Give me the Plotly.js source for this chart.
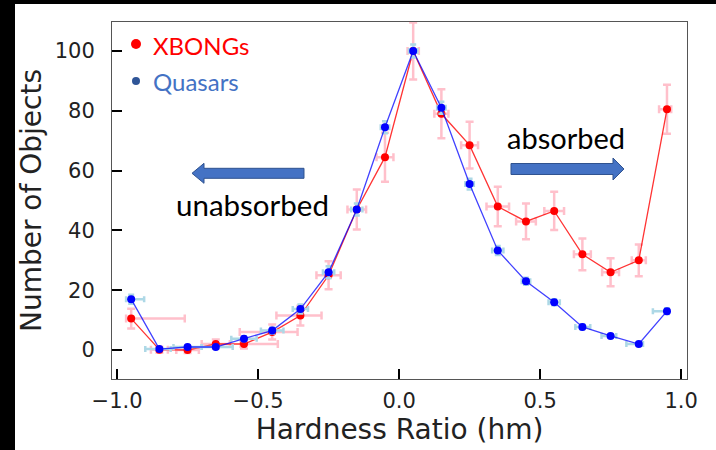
<!DOCTYPE html>
<html>
<head>
<meta charset="utf-8">
<script src="https://cdn.plot.ly/plotly-3.0.1.min.js"></script>
<style>
  html, body { margin: 0; padding: 0; background: #000; width: 716px; height: 450px; overflow: hidden; }
  #chart { position: absolute; left: 15px; top: 4px; width: 701px; height: 446px; background: #fff; }
</style>
</head>
<body>
<div id="chart"></div>
<script>
// ---- data ----
const hardnessRatio = [-0.95, -0.85, -0.75, -0.65, -0.55, -0.45, -0.35, -0.25, -0.15, -0.05,
                        0.05, 0.15, 0.25, 0.35, 0.45, 0.55, 0.65, 0.75, 0.85, 0.95];
const xbongCounts   = [10.5, 0.1, 0, 2, 2, 6, 11.5, 25, 47, 64.5,
                       100, 79, 68.5, 48, 43, 46.5, 32, 26, 30, 80.5];
const xbongErrY     = [3.3, 1, 1, 1.5, 1.5, 2.5, 3.3, 4.7, 6.7, 8.2,
                       9.5, 8.2, 7.8, 6.6, 6, 6.4, 5.3, 4.7, 5.3, 8.2];
const xbongErrXPlus = [0.19, 0.03, 0.04, 0.05, 0.12, 0.09, 0.075, 0.043, 0.033, 0.03,
                       0.02, 0.025, 0.03, 0.04, 0.035, 0.035, 0.03, 0.03, 0.025, 0.015];
const xbongErrXMinus= [0.018, 0.03, 0.04, 0.05, 0.012, 0.115, 0.085, 0.043, 0.033, 0.03,
                       0.02, 0.025, 0.03, 0.04, 0.035, 0.035, 0.03, 0.03, 0.025, 0.028];
const quasarCounts  = [17, 0.3, 1, 1, 3.8, 6.5, 13.7, 26, 47, 74.5,
                       100, 81, 55.5, 33.3, 23, 16, 7.7, 4.7, 2, 13];
const quasarErrY    = [1.5, 0.3, 0.5, 0.5, 0.8, 1, 1.5, 2, 2, 2,
                       2.2, 2, 1.8, 1.5, 1.2, 1, 0.8, 0.6, 0.4, 1];
const quasarErrXPlus= [0.046, 0.04, 0.05, 0.06, 0.045, 0.04, 0.027, 0.02, 0.02, 0.015,
                       0.015, 0.015, 0.015, 0.02, 0.015, 0.02, 0.028, 0.02, 0.015, 0.004];
const quasarErrXMinus=[0.018, 0.05, 0.05, 0.05, 0.045, 0.04, 0.027, 0.02, 0.02, 0.015,
                       0.015, 0.015, 0.015, 0.02, 0.015, 0.02, 0.025, 0.032, 0.044, 0.05];
const xTicks = [-1.0, -0.5, 0.0, 0.5, 1.0];
const yTicks = [0, 20, 40, 60, 80, 100];

// ---- layout helpers (page px -> paper) ----
const PL = 112, PR = 687, PT = 22, PB = 379;
const px = x => (x - PL) / (PR - PL);
const py = y => (PB - y) / (PB - PT);
function arrowPath(pts) {
  return 'M' + pts.map(p => px(p[0]).toFixed(5) + ',' + py(p[1]).toFixed(5)).join(' L') + ' Z';
}
const leftArrow = arrowPath([[192,173.3],[204,163.3],[204,168.3],[304,168.3],[304,178.3],[204,178.3],[204,183.3]]);
const rightArrow = arrowPath([[624,169],[613,158],[613,163.5],[511,163.5],[511,174.5],[613,174.5],[613,180]]);

const traces = [
  {
    x: hardnessRatio, y: xbongCounts, type: 'scatter', mode: 'lines+markers', name: 'XBONGs',
    line: { color: 'rgba(255,0,0,0.8)', width: 1.3 },
    marker: { color: '#ff0000', size: 8 },
    error_y: { type: 'data', array: xbongErrY, visible: true, color: '#ffc0cb', thickness: 2.5, width: 4 },
    error_x: { type: 'data', symmetric: false, array: xbongErrXPlus, arrayminus: xbongErrXMinus,
               visible: true, color: '#ffc0cb', thickness: 2.5, width: 4 }
  },
  {
    x: hardnessRatio, y: quasarCounts, type: 'scatter', mode: 'lines+markers', name: 'Quasars',
    line: { color: 'rgba(0,0,255,0.75)', width: 1.3 },
    marker: { color: '#0000ff', size: 8 },
    error_y: { type: 'data', array: quasarErrY, visible: true, color: '#add8e6', thickness: 2.5, width: 3 },
    error_x: { type: 'data', symmetric: false, array: quasarErrXPlus, arrayminus: quasarErrXMinus,
               visible: true, color: '#add8e6', thickness: 2.5, width: 3 }
  }
];

const labelFont = 'Lato, "Open Sans", sans-serif';
const layout = {
  width: 701, height: 446,
  margin: { l: PL - 15, r: 716 - PR, t: PT - 4, b: 450 - PB, pad: 0 },
  paper_bgcolor: '#ffffff', plot_bgcolor: '#ffffff',
  showlegend: false,
  font: { family: 'DejaVu Sans', color: '#222' },
  xaxis: {
    range: [-1.018, 1.021], tickvals: xTicks, ticktext: xTicks.map(v => v.toFixed(1).replace('-', '\u2212')),
    ticks: 'inside', ticklen: 10, tickwidth: 2, tickcolor: '#000',
    showline: true, mirror: true, linecolor: '#555', linewidth: 1,
    showgrid: false, zeroline: false,
    tickfont: { size: 21, color: '#222' }, ticklabelstandoff: 3,
    title: { text: 'Hardness Ratio (hm)', font: { size: 28, color: '#222' }, standoff: 2 }
  },
  yaxis: {
    range: [-9.7, 109.7], tickvals: yTicks,
    ticks: 'inside', ticklen: 10, tickwidth: 2, tickcolor: '#000',
    showline: true, mirror: true, linecolor: '#555', linewidth: 1,
    showgrid: false, zeroline: false,
    tickfont: { size: 21, color: '#222' }, ticklabelstandoff: 12,
    title: { text: 'Number of Objects', font: { size: 28, color: '#222' }, standoff: 6 }
  },
  shapes: [
    { type: 'path', xref: 'paper', yref: 'paper', path: leftArrow, fillcolor: '#4472c4', line: { color: '#2f528f', width: 1 } },
    { type: 'path', xref: 'paper', yref: 'paper', path: rightArrow, fillcolor: '#4472c4', line: { color: '#2f528f', width: 1 } },
    { type: 'circle', xref: 'paper', yref: 'paper', xsizemode: 'pixel', ysizemode: 'pixel',
      xanchor: px(136), yanchor: py(44), x0: -5, x1: 5, y0: -5, y1: 5, fillcolor: '#ff0000', line: { width: 0 } },
    { type: 'circle', xref: 'paper', yref: 'paper', xsizemode: 'pixel', ysizemode: 'pixel',
      xanchor: px(136), yanchor: py(81), x0: -4, x1: 4, y0: -4, y1: 4, fillcolor: '#2f5597', line: { width: 0 } }
  ],
  annotations: [
    { xref: 'paper', yref: 'paper', x: px(151), y: py(46), xanchor: 'left', yanchor: 'middle', showarrow: false,
      text: 'XBONGs', font: { family: labelFont, size: 24, color: '#ff0000' } },
    { xref: 'paper', yref: 'paper', x: px(151), y: py(82), xanchor: 'left', yanchor: 'middle', showarrow: false,
      text: 'Quasars', font: { family: labelFont, size: 24, color: '#4472c4' } },
    { xref: 'paper', yref: 'paper', x: px(252), y: py(204), xanchor: 'center', yanchor: 'middle', showarrow: false,
      text: 'unabsorbed', font: { family: labelFont, size: 29.5, color: '#000' } },
    { xref: 'paper', yref: 'paper', x: px(566), y: py(137), xanchor: 'center', yanchor: 'middle', showarrow: false,
      text: 'absorbed', font: { family: labelFont, size: 29, color: '#000' } }
  ]
};

Plotly.newPlot('chart', traces, layout, { displayModeBar: false, staticPlot: true });
</script>
</body>
</html>
